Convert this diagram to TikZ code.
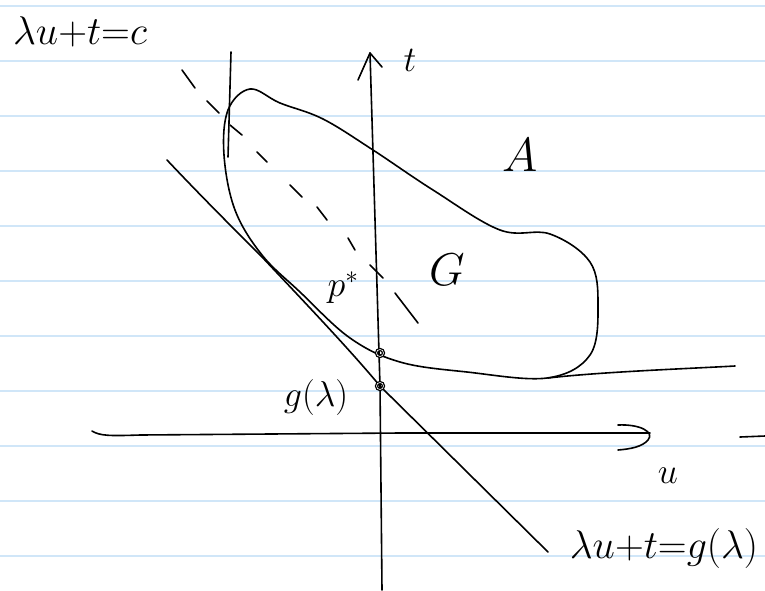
\RequirePackage{fix-cm}
\documentclass[tikz,border=0pt]{standalone}
\usepackage{fontspec}
\usetikzlibrary{calc}
\definecolor{ruleblue}{RGB}{208,230,248}
\tikzset{
  ink/.style={line width=1.6pt, line cap=round, line join=round, black},
  ruleline/.style={line width=2pt, ruleblue},
  lbl/.style={inner sep=0pt, outer sep=0pt},
  dotmark/.style={circle, draw, line width=1.3pt, minimum size=7pt, inner sep=0pt, double, double distance=0.6pt},
}
\begin{document}
\begin{tikzpicture}[x=1pt,y=-1pt]
\useasboundingbox (0,0) rectangle (765,590);
% lined paper
\foreach \k in {0,...,10} { \draw[ruleline] (0,{6+55*\k}) -- (765,{6+55*\k}); }

% u axis
\coordinate (ustart) at (92,431);
\coordinate (uend) at (650,433);
\draw[ink] (ustart) .. controls (100,436) and (110,436) .. (140,435) -- (400,433) -- (uend);
\draw[ink] (618,425) .. controls (640,424) and (655,432) .. (648,440) .. controls (642,447) and (630,449) .. (618,450);
\draw[ink] (740,437) -- (765,436);

% t axis
\coordinate (tbot) at (382,590);
\coordinate (ttop) at (370,53);
\draw[ink] (tbot) -- (380,386) -- (ttop);
\draw[ink] (358,80) -- (ttop) -- (382,67);

% vertical line at left
\coordinate (va) at (231,52);
\coordinate (vb) at (228,157);
\draw[ink] (va) -- (vb);

% dashed line lambda u + t = c
\foreach \ax/\ay/\bx/\by in {182/70/195/88, 207/101/219/113, 230/125/242/135, 257/152/267/162, 290/185/302/197, 317/207/327/220, 348/238/355/250, 370/265/383/278, 395/293/418/323}
  { \draw[ink] (\ax,\ay) -- (\bx,\by); }

% set A (blob)
\draw[ink] plot[smooth cycle, tension=0.6] coordinates {
  (228,110) (250,89) (280,103) (323,119) (373,150) (433,190) (500,230) (550,234)
  (590,262) (598,305) (590,355) (547,378) (467,372) (400,362) (350,338) (300,292)
  (262,255) (235,210) (224,155)};
% line extending right from the blob bottom
\draw[ink] (548,378) .. controls (600,372) and (680,369) .. (735,366);

% supporting line lambda u + t = g(lambda)
\coordinate (sa) at (167,160);
\coordinate (sb) at (548,552);
\draw[ink] (sa) .. controls (200,195) and (230,225) .. (263,258) .. controls (310,308) and (350,350) .. (380,386) -- (sb);

% marked points
\node[dotmark] (pt1) at (380,353) {};
\node[dotmark] (pt2) at (380,386) {};

% labels
\node[lbl, font=\fontsize{40}{42}\selectfont] (lc) at (80,32) {$\lambda u{+}t{=}c$};
\node[lbl, font=\fontsize{36}{38}\selectfont] (lt) at (410,60) {$t$};
\node[lbl, font=\fontsize{48}{50}\selectfont] (lA) at (520,155) {$A$};
\node[lbl, font=\fontsize{46}{48}\selectfont] (lG) at (447,270) {$G$};
\node[lbl, font=\fontsize{36}{38}\selectfont] (lp) at (343,288) {$p^{*}$};
\node[lbl, font=\fontsize{36}{38}\selectfont] (lg) at (316,397) {$g(\lambda)$};
\node[lbl, font=\fontsize{36}{38}\selectfont] (lu) at (668,476) {$u$};
\node[lbl, font=\fontsize{40}{42}\selectfont] (lgl) at (664,548) {$\lambda u{+}t{=}g(\lambda)$};
\end{tikzpicture}
\end{document}
